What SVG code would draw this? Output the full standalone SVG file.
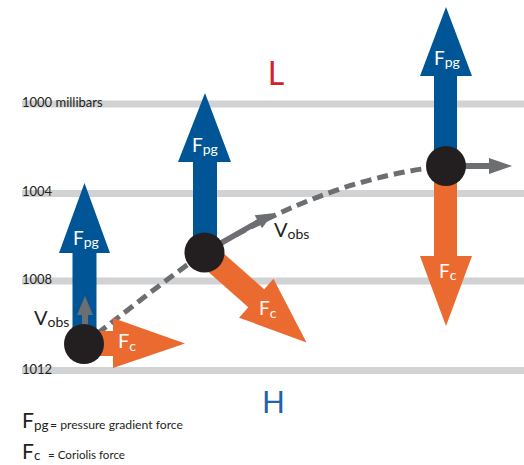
<svg xmlns="http://www.w3.org/2000/svg" width="524" height="465" viewBox="0 0 524 465">
<style>
.iso{fill:none;stroke:#d1d2d4;stroke-width:7}
.lbl{font-family:Lato,"Open Sans",sans-serif;fill:#231f20}
.wt{font-family:Lato,"Open Sans",sans-serif;fill:#ffffff}
.blue{fill:#005596}
.orange{fill:#ea6a2f}
.gray{fill:#6d6e71}
.dot{fill:#231f20}
.curve{fill:none;stroke:#6d6e71;stroke-width:5;stroke-dasharray:11 6}
</style>
<g id="isobars">
<line class="iso" x1="22" y1="104" x2="524" y2="104"/>
<line class="iso" x1="22" y1="193.5" x2="524" y2="193.5"/>
<line class="iso" x1="22" y1="281" x2="524" y2="281"/>
<line class="iso" x1="22" y1="370.5" x2="524" y2="370.5"/>
<text class="lbl" x="22" y="107" font-size="13">1000 millibars</text>
<text class="lbl" x="22" y="196" font-size="13">1004</text>
<text class="lbl" x="22" y="284" font-size="13">1008</text>
<text class="lbl" x="22" y="374" font-size="13">1012</text>
</g>
<g id="pressure-labels">
<text x="276" y="85" font-family="Lato,'Open Sans',sans-serif" font-size="32" fill="#d12229" text-anchor="middle">L</text>
<text x="273.5" y="413" font-family="Lato,'Open Sans',sans-serif" font-size="30" fill="#1f63a8" text-anchor="middle">H</text>
</g>
<g id="connectors">
<path class="curve" d="M84,344 C124,313 164,281 204.5,252.5 C291,202 366,174 446,166"/>
</g>
<g id="node-left">
<polygon class="blue" points="72.5,330 72.5,253 59,253 84.5,183 110,253 96.5,253 96.5,330"/>
<polygon class="gray" points="82,328 82,315 77,315 85,296 93,315 88,315 88,328"/>
<polygon class="orange" points="98,331 113,331 113,318 185,343.5 113,368 113,356 98,356"/>
<circle class="dot" cx="84" cy="344" r="20"/>
<text class="wt" x="73" y="245" font-size="19">F<tspan font-size="14" dy="2">pg</tspan></text>
<text class="wt" x="118" y="348" font-size="20">F<tspan font-size="14" dy="3">c</tspan></text>
<text class="lbl" x="34" y="325" font-size="20">V<tspan font-size="14" dy="2">obs</tspan></text>
</g>
<g id="node-middle">
<polygon class="blue" points="193,245 193,162 178,162 205,93 231,162 217,162 217,245"/>
<polygon class="orange" transform="translate(204.5,252.5) rotate(41.4)" points="0,-12 69,-12 69,-26 136,0 69,26 69,12 0,12"/>
<polygon class="gray" transform="translate(204.5,252.5) rotate(-29.7)" points="0,-2.8 62,-2.8 62,-7.5 79,0 62,7.5 62,2.8 0,2.8"/>
<circle class="dot" cx="204.5" cy="252.5" r="20"/>
<text class="wt" x="192" y="152" font-size="19">F<tspan font-size="14" dy="2">pg</tspan></text>
<text class="wt" x="259" y="315" font-size="19">F<tspan font-size="14" dy="3">c</tspan></text>
<text class="lbl" x="274" y="237" font-size="20">V<tspan font-size="14" dy="2">obs</tspan></text>
</g>
<g id="node-right">
<polygon class="blue" points="434,160 434,76 420,76 446,7 472,76 457,76 457,160"/>
<polygon class="orange" points="434,175 457,175 457,256 472,256 446,326 420,256 434,256"/>
<polygon class="gray" points="460,163 489,163 489,158 512,166 489,174 489,169 460,169"/>
<circle class="dot" cx="446" cy="166" r="20"/>
<text class="wt" x="434" y="65" font-size="19">F<tspan font-size="14" dy="2">pg</tspan></text>
<text class="wt" x="439" y="278" font-size="19">F<tspan font-size="14" dy="2">c</tspan></text>
</g>
<g id="legend">
<text class="lbl" x="22" y="428" font-size="21">F<tspan font-size="13.5" dy="2">pg</tspan></text>
<text class="lbl" x="50" y="429" font-size="11.5" textLength="133" lengthAdjust="spacingAndGlyphs">= pressure gradient force</text>
<text class="lbl" x="22" y="459" font-size="21">F<tspan font-size="13.5" dy="1">c</tspan></text>
<text class="lbl" x="48" y="459" font-size="11.5" textLength="77" lengthAdjust="spacingAndGlyphs">= Coriolis force</text>
</g>
</svg>
